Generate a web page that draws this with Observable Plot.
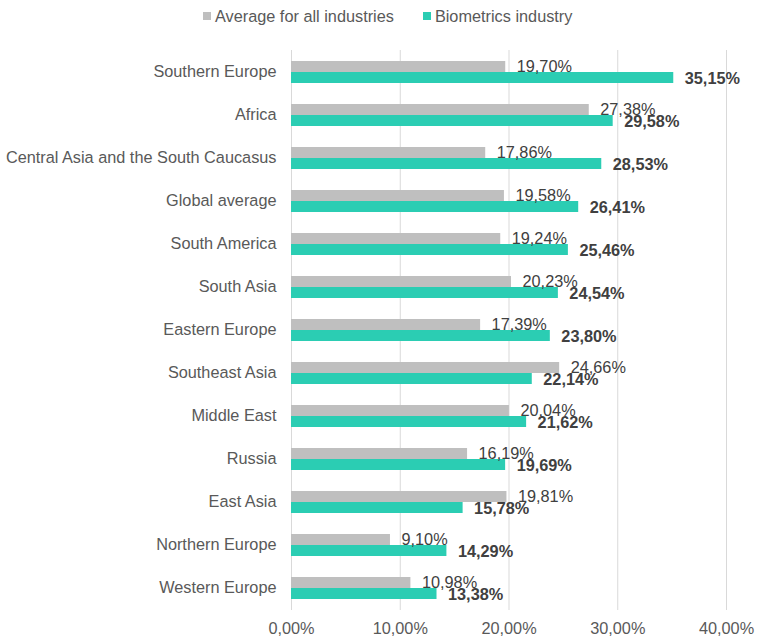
<!DOCTYPE html>
<html>
<head>
<meta charset="utf-8">
<script src="https://cdn.jsdelivr.net/npm/d3@7"></script>
<script src="https://cdn.jsdelivr.net/npm/@observablehq/plot@0.6"></script>
<style>
  body { margin: 0; background: #fff; font-family: "Liberation Sans", Arial, sans-serif; }
  #legend { height: 32px; display: flex; align-items: center; padding-left: 203px; font-size: 16.3px; color: #595959; box-sizing: border-box; }
  .item { display: flex; align-items: center; }
  .sw { width: 8px; height: 8px; margin-right: 4px; }
</style>
</head>
<body>
<div id="legend"></div>
<div id="chart"></div>
<script>
const regions = ["Southern Europe","Africa","Central Asia and the South Caucasus","Global average","South America","South Asia","Eastern Europe","Southeast Asia","Middle East","Russia","East Asia","Northern Europe","Western Europe"];
const averageAll = [19.70,27.38,17.86,19.58,19.24,20.23,17.39,24.66,20.04,16.19,19.81,9.10,10.98];
const biometrics = [35.15,29.58,28.53,26.41,25.46,24.54,23.80,22.14,21.62,19.69,15.78,14.29,13.38];
const seriesNames = ["Average for all industries","Biometrics industry"];
const seriesColors = ["#BFBFBF","#2BCDB3"];
const xTicks = [0,10,20,30,40];

const fmt = v => d3.format(".2f")(v).replace(".", ",") + "%";
const rows = regions.map((r, i) => ({region: r, avg: averageAll[i], bio: biometrics[i]}));

const legend = document.getElementById("legend");
seriesNames.forEach((n, i) => {
  const it = document.createElement("div");
  it.className = "item";
  if (i > 0) it.style.marginLeft = "29px";
  it.innerHTML = `<span class="sw" style="background:${seriesColors[i]}"></span><span>${n}</span>`;
  legend.appendChild(it);
});

const chart = Plot.plot({
  width: 784,
  height: 611,
  marginTop: 18,
  marginBottom: 33,
  marginLeft: 291,
  marginRight: 58,
  style: {fontFamily: "Liberation Sans, Arial, sans-serif", fontSize: "16.3px", color: "#595959", background: "#fff"},
  x: {domain: [0, 40], ticks: xTicks},
  y: {domain: regions, paddingInner: 0.49, paddingOuter: 0.245, align: 0.5},
  marks: [
    Plot.gridX(xTicks, {stroke: "#D9D9D9", strokeOpacity: 1}),
    Plot.barX(rows, {y: "region", x: "avg", fill: seriesColors[0], insetBottom: 11}),
    Plot.barX(rows, {y: "region", x: "bio", fill: seriesColors[1], insetTop: 11}),
    Plot.text(rows, {y: "region", x: "avg", text: d => fmt(d.avg), textAnchor: "start", dx: 11, dy: -5.5, fill: "#404040", fontSize: 16.3}),
    Plot.text(rows, {y: "region", x: "bio", text: d => fmt(d.bio), textAnchor: "start", dx: 11, dy: 6.5, fill: "#404040", fontSize: 16.3, fontWeight: "bold"}),
    Plot.axisX(xTicks, {tickSize: 0, tickPadding: 12, tickFormat: v => d3.format(".2f")(v).replace(".", ",") + "%", fill: "#595959", fontSize: 16.3}),
    Plot.axisY({tickSize: 0, tickPadding: 15, dy: -0.5, fill: "#595959", fontSize: 16.3, label: null})
  ]
});
document.getElementById("chart").appendChild(chart);
</script>
</body>
</html>
